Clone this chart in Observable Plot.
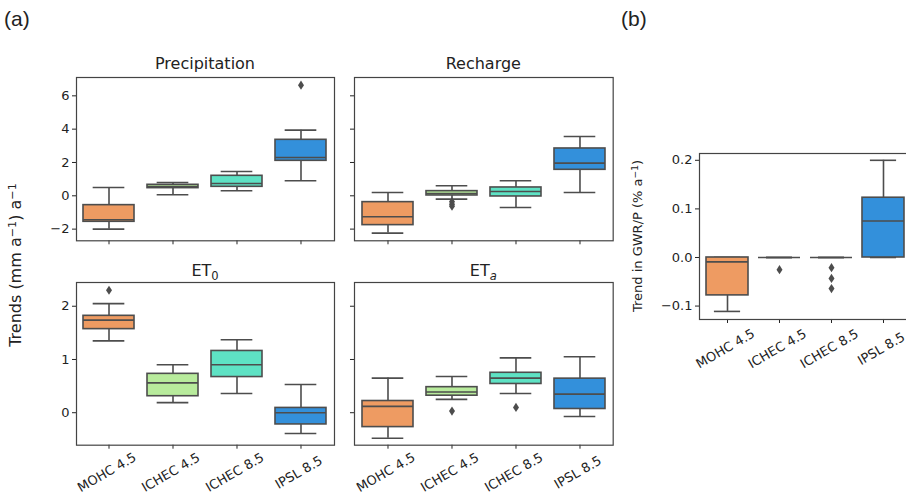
<!DOCTYPE html>
<html>
<head>
<meta charset="utf-8">
<script src="https://cdn.jsdelivr.net/npm/d3@7"></script>
<script src="https://cdn.jsdelivr.net/npm/@observablehq/plot@0.6"></script>
<style>
  html, body { margin: 0; padding: 0; background: #fff; }
  body { width: 906px; height: 501px; overflow: hidden; position: relative; font-family: "DejaVu Sans", sans-serif; color: #222; }
  .abs { position: absolute; white-space: nowrap; line-height: 1; }
  .title { font-size: 16px; transform: translateX(-50%); }
  .tag { font-family: "Liberation Sans", Arial, sans-serif; font-size: 21px; }
  .sup { font-size: 0.7em; position: relative; top: -0.45em; }
  .sub { font-size: 0.72em; position: relative; top: 0.3em; }
  svg { position: absolute; overflow: visible; }
</style>
</head>
<body>
<script>
// ---- data ----
const models = ["MOHC 4.5", "ICHEC 4.5", "ICHEC 8.5", "IPSL 8.5"];
const colors = ["#EE9B62", "#B8EB9C", "#5EE2C4", "#3390DB"];

// per model: [lower whisker, q1, median, q3, upper whisker]
const precipitation = [
  [-2.0, -1.56, -1.44, -0.56, 0.5],
  [0.06, 0.46, 0.56, 0.66, 0.8],
  [0.3, 0.54, 0.74, 1.2, 1.46],
  [0.9, 2.1, 2.3, 3.36, 3.94]
];
const recharge = [
  [-2.24, -1.76, -1.26, -0.38, 0.2],
  [-0.2, 0.02, 0.14, 0.28, 0.6],
  [-0.7, -0.04, 0.26, 0.5, 0.9],
  [0.2, 1.56, 1.96, 2.84, 3.56]
];
const et0 = [
  [1.35, 1.57, 1.74, 1.82, 2.05],
  [0.19, 0.31, 0.56, 0.73, 0.9],
  [0.36, 0.67, 0.9, 1.16, 1.37],
  [-0.39, -0.22, 0.0, 0.09, 0.53]
];
const eta = [
  [-0.48, -0.27, 0.12, 0.22, 0.65],
  [0.25, 0.32, 0.39, 0.48, 0.68],
  [0.36, 0.54, 0.65, 0.75, 1.03],
  [-0.07, 0.07, 0.35, 0.64, 1.05]
];
const gwrp = [
  [-0.111, -0.078, -0.009, 0.0, 0.0],
  [0.0, 0.0, 0.0, 0.0, 0.0],
  [0.0, 0.0, 0.0, 0.0, 0.0],
  [0.0, 0.0, 0.075, 0.123, 0.2]
];

// outliers: [model, value]
const precipitationOutliers = [["IPSL 8.5", 6.64]];
const rechargeOutliers = [["ICHEC 4.5", -0.35], ["ICHEC 4.5", -0.5], ["ICHEC 4.5", -0.62]];
const et0Outliers = [["MOHC 4.5", 2.3]];
const etaOutliers = [["ICHEC 4.5", 0.03], ["ICHEC 8.5", 0.1]];
const gwrpOutliers = [["ICHEC 4.5", -0.025], ["ICHEC 8.5", -0.021], ["ICHEC 8.5", -0.043], ["ICHEC 8.5", -0.064]];

const ticksTop = [-2, 0, 2, 4, 6];
const ticksBottom = [0, 1, 2];
const ticksB = [-0.1, 0.0, 0.1, 0.2];

// ---- drawing ----
const G = "#4d4d4d";
const thinDiamond = {
  draw(context, size) {
    const r = Math.sqrt(size / Math.PI);
    context.moveTo(0, -r);
    context.lineTo(0.65 * r, 0);
    context.lineTo(0, r);
    context.lineTo(-0.65 * r, 0);
    context.closePath();
  }
};

function boxPanel({stats, outliers, yDomain, yTicks, fmt, showY, showX, frame, dyLabel}) {
  const [x0, y0, x1, y1] = frame;
  const mL = 45, mR = 4, mT = 4, mB = 70;
  const step = (x1 - x0) / models.length;
  const capInset = 0.15 * step;
  const rows = models.map((m, i) => ({
    model: m, lo: stats[i][0], q1: stats[i][1], med: stats[i][2], q3: stats[i][3], hi: stats[i][4]
  }));
  const outs = outliers.map(([model, value]) => ({model, value}));
  const marks = [
    Plot.ruleX(rows, {x: "model", y1: "lo", y2: "q1", stroke: G, strokeWidth: 1.6}),
    Plot.ruleX(rows, {x: "model", y1: "q3", y2: "hi", stroke: G, strokeWidth: 1.6}),
    Plot.tickY(rows, {x: "model", y: "lo", insetLeft: capInset, insetRight: capInset, stroke: G, strokeWidth: 1.6}),
    Plot.tickY(rows, {x: "model", y: "hi", insetLeft: capInset, insetRight: capInset, stroke: G, strokeWidth: 1.6}),
    Plot.barY(rows, {x: "model", y1: "q1", y2: "q3", fill: "model", stroke: G, strokeWidth: 1.6}),
    Plot.tickY(rows, {x: "model", y: "med", stroke: G, strokeWidth: 1.6}),
    Plot.dot(outs, {x: "model", y: "value", symbol: thinDiamond, r: 4.6, fill: G, stroke: "none"}),
    Plot.frame({stroke: "#444", strokeWidth: 1.2})
  ];
  if (showX) {
    marks.push(Plot.text(models, {x: d => d, frameAnchor: "bottom", dy: dyLabel, rotate: -30, fontSize: 13, fill: "#222"}));
  }
  const svg = Plot.plot({
    width: mL + (x1 - x0) + mR,
    height: mT + (y1 - y0) + mB,
    marginLeft: mL, marginRight: mR, marginTop: mT, marginBottom: mB,
    x: {domain: models, paddingInner: 0.2, paddingOuter: 0.1, tickSize: 4, tickFormat: () => "", label: null},
    y: {domain: yDomain, ticks: yTicks, tickSize: 4, tickPadding: 3, tickFormat: showY ? fmt : () => "", label: null},
    color: {domain: models, range: colors},
    style: {fontFamily: "DejaVu Sans", fontSize: "13px", color: "#222", background: "transparent", overflow: "visible"},
    marks
  });
  svg.style.left = (x0 - mL) + "px";
  svg.style.top = (y0 - mT) + "px";
  document.body.appendChild(svg);
}

const fmtInt = d3.format("");
const fmt1 = d3.format(".1f");
const topDomain = [-2.7, 7.1];
const botDomain = [-0.61, 2.446];

boxPanel({stats: precipitation, outliers: precipitationOutliers, yDomain: topDomain, yTicks: ticksTop, fmt: fmtInt, showY: true, showX: false, frame: [76, 76.7, 334, 240]});
boxPanel({stats: recharge, outliers: rechargeOutliers, yDomain: topDomain, yTicks: ticksTop, fmt: fmtInt, showY: false, showX: false, frame: [354, 76.7, 612.7, 240]});
boxPanel({stats: et0, outliers: et0Outliers, yDomain: botDomain, yTicks: ticksBottom, fmt: fmtInt, showY: true, showX: true, frame: [76, 282.3, 334, 445], dyLabel: 31});
boxPanel({stats: eta, outliers: etaOutliers, yDomain: botDomain, yTicks: ticksBottom, fmt: fmtInt, showY: false, showX: true, frame: [354, 282.3, 612.7, 445], dyLabel: 31});
boxPanel({stats: gwrp, outliers: gwrpOutliers, yDomain: [-0.1276, 0.214], yTicks: ticksB, fmt: fmt1, showY: true, showX: true, frame: [698.7, 153.3, 909.5, 319.3], dyLabel: 33});

// ---- text ----
function addHTML(html, cls, style) {
  const d = document.createElement("div");
  d.className = "abs " + cls;
  d.innerHTML = html;
  Object.assign(d.style, style);
  document.body.appendChild(d);
  return d;
}
addHTML("(a)", "tag", {left: "4px", top: "8px"});
addHTML("(b)", "tag", {left: "621px", top: "8px"});
addHTML("Precipitation", "title", {left: "205px", top: "55.8px"});
addHTML("Recharge", "title", {left: "483.3px", top: "55.8px"});
addHTML('ET<span class="sub">0</span>', "title", {left: "205px", top: "263.2px"});
addHTML('ET<span class="sub"><i>a</i></span>', "title", {left: "483.3px", top: "263.2px"});
addHTML('Trends (mm a<span class="sup">−1</span>) a<span class="sup">−1</span>', "", {
  left: "16px", top: "265px", fontSize: "16px", transform: "translate(-50%, -50%) rotate(-90deg)"
});
addHTML('Trend in GWR/P (% a<span class="sup">−1</span>)', "", {
  left: "638px", top: "236px", fontSize: "13px", transform: "translate(-50%, -50%) rotate(-90deg)"
});
</script>
</body>
</html>
